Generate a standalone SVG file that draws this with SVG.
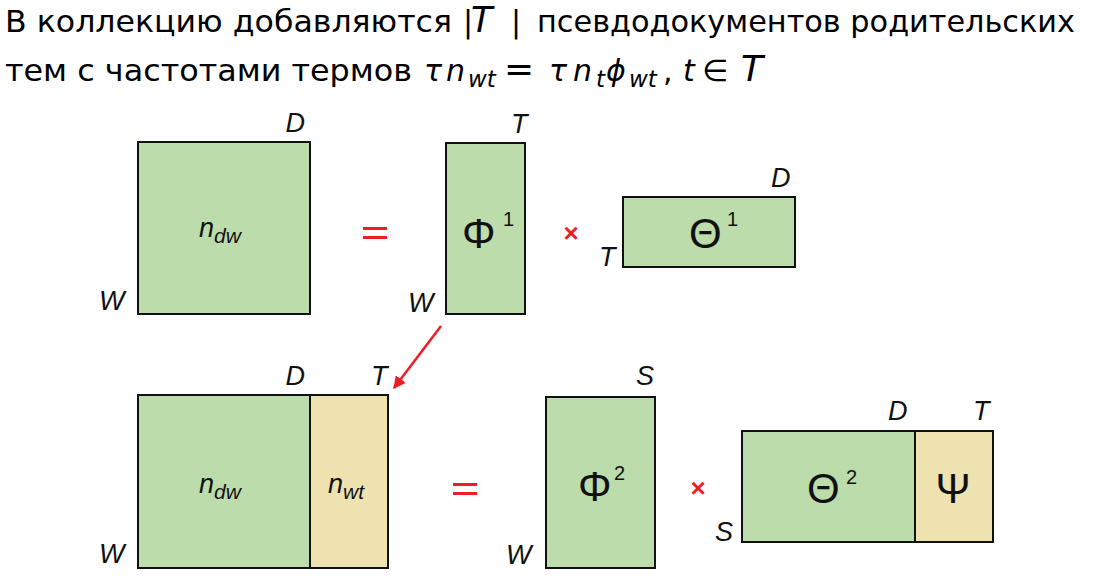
<svg xmlns="http://www.w3.org/2000/svg" width="1104" height="588" viewBox="0 0 1104 588">
<defs>
<style>
.hdr{font-family:"DejaVu Sans","Noto Sans",sans-serif;font-size:30px;fill:#000}
.mi{font-family:"DejaVu Sans","Noto Sans",sans-serif;font-style:italic}
.lbl{font-family:"Liberation Sans",Arial,sans-serif;font-style:italic;font-size:27px;fill:#111}
.gk{font-family:"Liberation Sans",Arial,sans-serif;font-size:42px;fill:#111}
.sup{font-family:"Liberation Sans",Arial,sans-serif;font-size:20px;fill:#111}
.g{fill:#bcdcac;stroke:#111;stroke-width:2}
.y{fill:#eee3b0;stroke:#111;stroke-width:2}
.op{stroke:#ee1c24;stroke-width:3}
.x{font-family:"Liberation Sans",Arial,sans-serif;font-size:26px;font-weight:bold;fill:#ee1c24}
</style>
<marker id="ah" viewBox="0 0 10 10" refX="9" refY="5" markerWidth="5" markerHeight="5" orient="auto" markerUnits="strokeWidth">
<path d="M0,0 L10,5 L0,10 z" fill="#ee1c24"/>
</marker>
</defs>
<rect width="1104" height="588" fill="#fff"/>

<g id="header">
<text class="hdr" x="5" y="32" textLength="447" lengthAdjust="spacingAndGlyphs">В коллекцию добавляются</text>
<text class="hdr" x="463" y="32">|<tspan class="mi" x="471" font-size="35">T</tspan><tspan x="511">|</tspan></text>
<text class="hdr" x="537" y="32" textLength="538" lengthAdjust="spacingAndGlyphs">псевдодокументов родительских</text>
<text class="hdr" x="5" y="81" textLength="407" lengthAdjust="spacingAndGlyphs">тем с частотами термов</text>
<text class="hdr" y="81" font-size="33">
<tspan class="mi" x="424">τ</tspan><tspan class="mi" x="446">n</tspan><tspan class="mi" font-size="23" x="468" dy="6">wt</tspan><tspan x="504" dy="-6" font-size="36">=</tspan><tspan class="mi" x="549">τ</tspan><tspan class="mi" x="573">n</tspan><tspan class="mi" font-size="23" x="596" dy="6">t</tspan><tspan class="mi" x="606" dy="-6">ϕ</tspan><tspan class="mi" font-size="23" x="629" dy="6">wt</tspan><tspan x="663" dy="-6">,</tspan><tspan class="mi" x="683">t</tspan><tspan x="702">∈</tspan><tspan class="mi" x="741" font-size="36">T</tspan>
</text>
</g>

<g id="ndw-top">
<rect class="g" x="138" y="142" width="172" height="172"/>
<text class="lbl" x="305" y="132" text-anchor="end">D</text>
<text class="lbl" x="99" y="310">W</text>
<text class="lbl" x="220" y="237" text-anchor="middle" font-size="32">n<tspan font-size="21" dy="6">dw</tspan></text>
</g>

<g id="phi1">
<rect class="g" x="446" y="143" width="79" height="171"/>
<text class="lbl" x="511" y="133">T</text>
<text class="lbl" x="408" y="312">W</text>
<text class="gk" x="462" y="248">Φ</text>
<text class="sup" x="503" y="226">1</text>
</g>

<g id="theta1">
<rect class="g" x="623" y="197" width="172" height="70"/>
<text class="lbl" x="771" y="187">D</text>
<text class="lbl" x="599" y="266">T</text>
<text class="gk" x="689" y="248">Θ</text>
<text class="sup" x="727" y="226">1</text>
</g>

<g id="ndw-bottom">
<rect class="g" x="138" y="395" width="172" height="173"/>
<rect class="y" x="310" y="395" width="78" height="173"/>
<text class="lbl" x="305" y="385" text-anchor="end">D</text>
<text class="lbl" x="371" y="385">T</text>
<text class="lbl" x="99" y="563">W</text>
<text class="lbl" x="220" y="493" text-anchor="middle" font-size="32">n<tspan font-size="21" dy="6">dw</tspan></text>
<text class="lbl" x="346" y="493" text-anchor="middle" font-size="32">n<tspan font-size="21" dy="6">wt</tspan></text>
</g>

<g id="phi2">
<rect class="g" x="546" y="397" width="109" height="171"/>
<text class="lbl" x="636" y="385">S</text>
<text class="lbl" x="506" y="564">W</text>
<text class="gk" x="578" y="501">Φ</text>
<text class="sup" x="614" y="480">2</text>
</g>

<g id="theta2-psi">
<rect class="g" x="742" y="431" width="173" height="111"/>
<rect class="y" x="915" y="431" width="78" height="111"/>
<text class="lbl" x="888" y="420">D</text>
<text class="lbl" x="973" y="420">T</text>
<text class="lbl" x="715" y="541">S</text>
<text class="gk" x="807" y="503">Θ</text>
<text class="sup" x="846" y="484">2</text>
<text class="gk" x="953" y="503" text-anchor="middle">Ψ</text>
</g>

<g id="operators">
<line class="op" x1="363" y1="228.5" x2="387" y2="228.5"/>
<line class="op" x1="363" y1="237.5" x2="387" y2="237.5"/>
<text class="x" x="571" y="242" text-anchor="middle">×</text>
<line class="op" x1="453" y1="484.5" x2="477" y2="484.5"/>
<line class="op" x1="453" y1="493.5" x2="477" y2="493.5"/>
<text class="x" x="698" y="497" text-anchor="middle">×</text>
</g>

<g id="connectors">
<line x1="441" y1="326" x2="394" y2="388" stroke="#ee1c24" stroke-width="2.5" marker-end="url(#ah)"/>
</g>
</svg>
